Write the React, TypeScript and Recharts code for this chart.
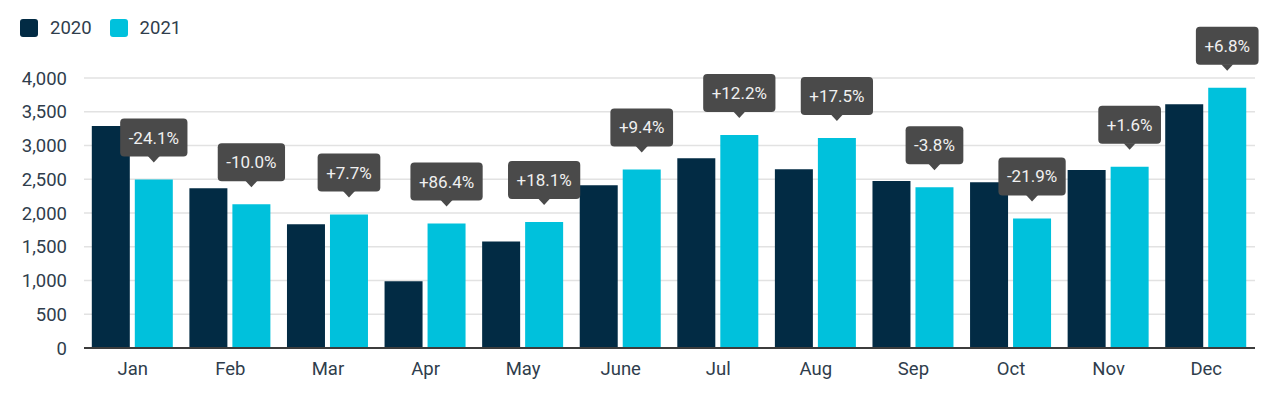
import React from 'react';
import { BarChart, Bar, XAxis, YAxis, CartesianGrid, LabelList } from 'recharts';

const months = ['Jan', 'Feb', 'Mar', 'Apr', 'May', 'June', 'Jul', 'Aug', 'Sep', 'Oct', 'Nov', 'Dec'];
const values2020 = [3290, 2366, 1833, 990, 1577, 2410, 2812, 2648, 2474, 2456, 2637, 3610];
const values2021 = [2495, 2130, 1976, 1843, 1865, 2645, 3157, 3110, 2380, 1920, 2685, 3856];
const changeLabels = ['-24.1%', '-10.0%', '+7.7%', '+86.4%', '+18.1%', '+9.4%', '+12.2%', '+17.5%', '-3.8%', '-21.9%', '+1.6%', '+6.8%'];
const yTicks = [0, 500, 1000, 1500, 2000, 2500, 3000, 3500, 4000];
const seriesNames = ['2020', '2021'];

const COLOR_2020 = '#022b44';
const COLOR_2021 = '#00c1dc';
const TEXT_COLOR = '#2f3d4c';
const FONT = 'Roboto, "Open Sans", sans-serif';

const data = months.map((m, i) => ({
  month: m,
  v2020: values2020[i],
  v2021: values2021[i],
  change: changeLabels[i],
}));

let ctx: CanvasRenderingContext2D | null = null;
function measure(text: string, font: string): number {
  if (!ctx && typeof document !== 'undefined') {
    ctx = document.createElement('canvas').getContext('2d');
  }
  if (!ctx) return text.length * 9;
  ctx.font = font;
  return ctx.measureText(text).width;
}

const ChangeLabel = (props: any) => {
  const { x, y, width, value } = props;
  const cx = Number(x) + Number(width) / 2;
  const top = Number(y);
  const fontSize = 17;
  const tw = measure(String(value), `${fontSize}px Roboto`);
  const bw = tw + 17;
  const bh = 38;
  const boxBottom = top - 23;
  const boxTop = boxBottom - bh;
  const tip = top - 17;
  return (
    <g>
      <rect x={cx - bw / 2} y={boxTop} width={bw} height={bh} rx={4} ry={4} fill="#4a4a4a" />
      <path d={`M${cx - 6},${boxBottom - 0.5} L${cx + 6},${boxBottom - 0.5} L${cx},${tip} Z`} fill="#4a4a4a" />
      <text
        x={cx}
        y={boxTop + bh / 2}
        textAnchor="middle"
        dominantBaseline="central"
        fill="#f0f0f0"
        fontSize={fontSize}
        fontFamily={FONT}
      >
        {value}
      </text>
    </g>
  );
};

const fmt = (v: number) => v.toLocaleString('en-US');

export default function App() {
  return (
    <div style={{ position: 'absolute', left: 0, top: 0, width: 1280, height: 394, background: '#fff', fontFamily: FONT }}>
      <div style={{ position: 'absolute', left: 20, top: 18, display: 'flex', alignItems: 'center', height: 20 }}>
        <span style={{ width: 18, height: 18, borderRadius: 3, background: COLOR_2020, display: 'inline-block' }} />
        <span style={{ marginLeft: 12, fontSize: 18.5, color: TEXT_COLOR, lineHeight: '20px' }}>{seriesNames[0]}</span>
        <span style={{ marginLeft: 18, width: 18, height: 18, borderRadius: 3, background: COLOR_2021, display: 'inline-block' }} />
        <span style={{ marginLeft: 12, fontSize: 18.5, color: TEXT_COLOR, lineHeight: '20px' }}>{seriesNames[1]}</span>
      </div>
      <BarChart
        width={1280}
        height={394}
        data={data}
        margin={{ top: 78, right: 25, bottom: 0, left: 0 }}
        barCategoryGap="8%"
        barGap={5}
      >
        <CartesianGrid vertical={false} stroke="#e2e2e2" strokeWidth={1.5} />
        <XAxis
          dataKey="month"
          height={46}
          tickLine={false}
          axisLine={{ stroke: '#3c3c3c', strokeWidth: 2 }}
          tickSize={0}
          tickMargin={14}
          tick={{ fill: TEXT_COLOR, fontSize: 18.5, fontFamily: FONT }}
          interval={0}
        />
        <YAxis
          width={84}
          domain={[0, 4000]}
          ticks={yTicks}
          tickFormatter={fmt}
          tickLine={false}
          axisLine={false}
          tickSize={0}
          tickMargin={17}
          tick={{ fill: TEXT_COLOR, fontSize: 18.5, fontFamily: FONT }}
          interval={0}
        />
        <Bar dataKey="v2020" name={seriesNames[0]} fill={COLOR_2020} isAnimationActive={false} />
        <Bar dataKey="v2021" name={seriesNames[1]} fill={COLOR_2021} isAnimationActive={false}>
          <LabelList dataKey="change" content={ChangeLabel} />
        </Bar>
      </BarChart>
    </div>
  );
}
